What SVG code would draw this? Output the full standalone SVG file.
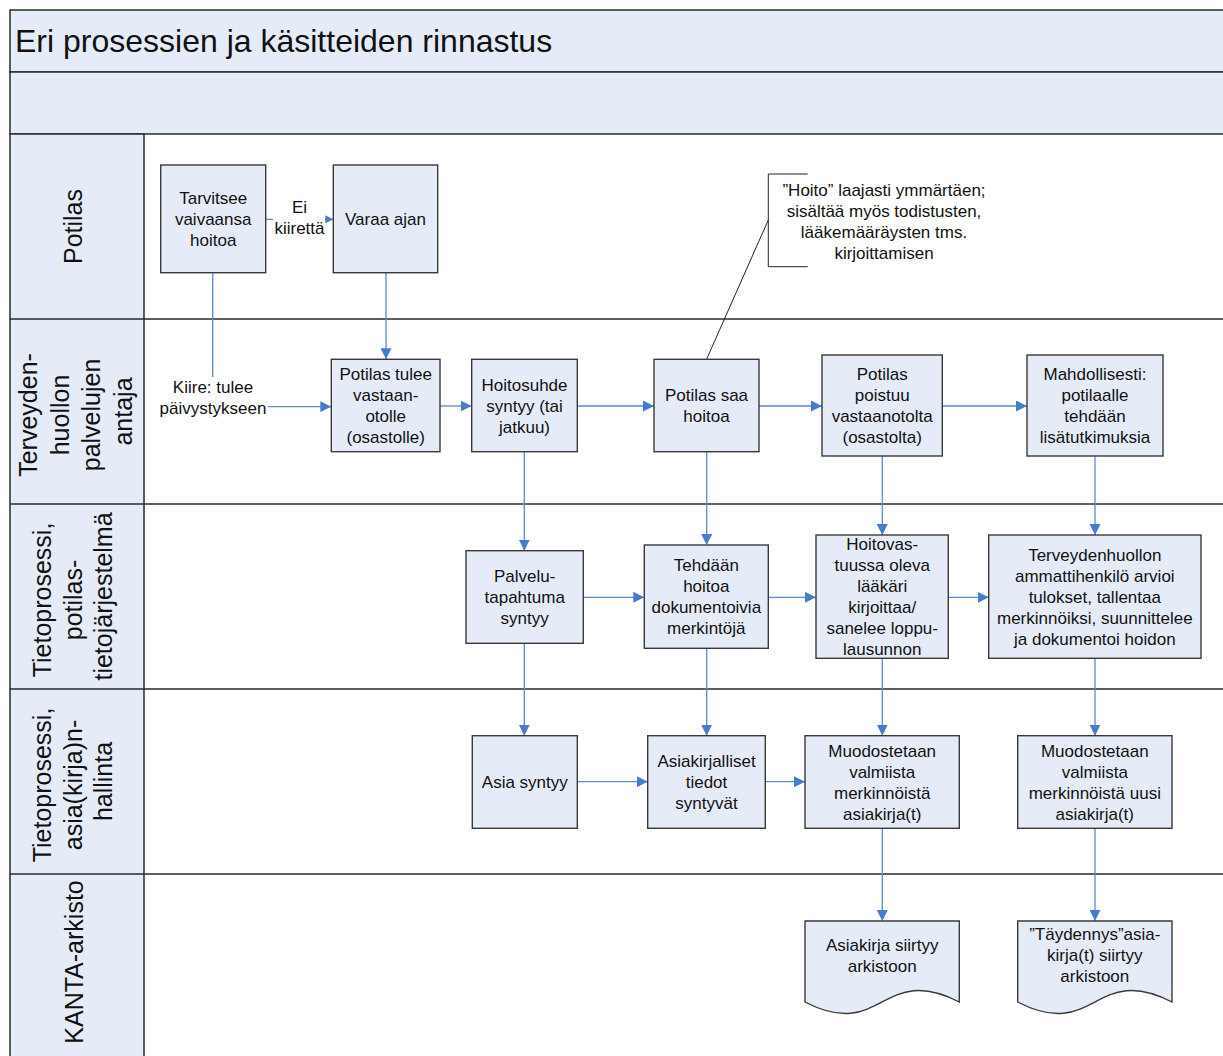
<svg xmlns="http://www.w3.org/2000/svg" width="1223" height="1056" viewBox="0 0 1223 1056">
  <style>
    text { font-family: "Liberation Sans", Arial, sans-serif; fill: #111; }
    .title { font-size: 32px; }
    .lane { font-size: 25px; text-anchor: middle; }
    .nt { font-size: 17px; text-anchor: middle; }
    .band { fill: #E6ECF7; stroke: #2a2a2a; stroke-width: 1.5; }
    .div { stroke: #2a2a2a; stroke-width: 1.6; fill: none; }
    .box { fill: #E6ECF7; stroke: #3a3a3a; stroke-width: 1.4; }
    .conn { fill: none; stroke: #5B89D2; stroke-width: 1.3; marker-end: url(#arrow); }
    .conn-sm { fill: none; stroke: #5B89D2; stroke-width: 1.3; marker-end: url(#arrow-sm); }
    .thin { fill: none; stroke: #222; stroke-width: 1; }
  </style>
  <defs>
    <marker id="arrow" viewBox="0 0 10 10" refX="10" refY="5" markerUnits="userSpaceOnUse" markerWidth="11" markerHeight="11" orient="auto">
      <path d="M0,0 L10,5 L0,10 z" fill="#4A7BCB"/>
    </marker>
    <marker id="arrow-sm" viewBox="0 0 10 10" refX="10" refY="5" markerUnits="userSpaceOnUse" markerWidth="8" markerHeight="8" orient="auto">
      <path d="M0,0 L10,5 L0,10 z" fill="#4A7BCB"/>
    </marker>
  </defs>

  <rect x="0" y="0" width="1223" height="1056" fill="#ffffff"/>

  <!-- Pool frame: title band, empty header band, lane label column -->
  <g id="frame">
    <rect class="band" x="10" y="10" width="1230" height="62"/>
    <rect class="band" x="10" y="72" width="1230" height="62"/>
    <rect class="band" x="10" y="134" width="134" height="940"/>
    <line class="div" x1="10" y1="319" x2="1223" y2="319"/>
    <line class="div" x1="10" y1="504" x2="1223" y2="504"/>
    <line class="div" x1="10" y1="689" x2="1223" y2="689"/>
    <line class="div" x1="10" y1="874" x2="1223" y2="874"/>
    <text class="title" x="15" y="52">Eri prosessien ja käsitteiden rinnastus</text>
  </g>

  <!-- Lane labels -->
  <g id="lane-potilas">
    <text class="lane" transform="translate(82,226.5) rotate(-90)" x="0" y="0">Potilas</text>
  </g>
  <g id="lane-antaja">
    <text class="lane" transform="translate(37,411.5) rotate(-90)">
      <tspan x="0" y="0">Terveyden-</tspan>
      <tspan x="0" y="31.5">huollon</tspan>
      <tspan x="0" y="63">palvelujen</tspan>
      <tspan x="0" y="94.5">antaja</tspan>
    </text>
  </g>
  <g id="lane-potilastieto">
    <text class="lane" transform="translate(51,596.5) rotate(-90)">
      <tspan x="0" y="0">Tietoprosessi,</tspan>
      <tspan x="0" y="30.5">potilas-</tspan>
      <tspan x="0" y="61">tietojärjestelmä</tspan>
    </text>
  </g>
  <g id="lane-asianhallinta">
    <text class="lane" transform="translate(51,781.5) rotate(-90)">
      <tspan x="0" y="0">Tietoprosessi,</tspan>
      <tspan x="0" y="30.5">asia(kirja)n-</tspan>
      <tspan x="0" y="61">hallinta</tspan>
    </text>
  </g>
  <g id="lane-kanta">
    <text class="lane" transform="translate(83,962) rotate(-90)" x="0" y="0">KANTA-arkisto</text>
  </g>

  <!-- Connectors -->
  <g id="connectors">
    <path class="conn-sm" d="M265.7,219.3 H333.3"/>
    <rect x="273" y="197" width="52" height="44" fill="#ffffff"/>
    <text class="nt" x="299.5" y="213.3">Ei</text>
    <text class="nt" x="299.5" y="234.3">kiirettä</text>

    <path class="conn" d="M212.7,272.7 V406.7 H331.3"/>
    <rect x="156" y="377" width="112" height="42" fill="#ffffff"/>
    <text class="nt" x="213" y="393.3">Kiire: tulee</text>
    <text class="nt" x="213" y="414.3">päivystykseen</text>

    <path class="conn" d="M386,272.7 V359.3"/>
    <path class="conn" d="M440,406 H471.7"/>
    <path class="conn" d="M577.3,406 H654"/>
    <path class="conn" d="M759,406 H822"/>
    <path class="conn" d="M942.3,406 H1027"/>
    <path class="conn" d="M524.3,451.7 V550.7"/>
    <path class="conn" d="M706.7,451.7 V545"/>
    <path class="conn" d="M882.3,456 V535"/>
    <path class="conn" d="M1095,456 V535"/>
    <path class="conn" d="M583.3,597.3 H644.3"/>
    <path class="conn" d="M768.3,597.3 H816"/>
    <path class="conn" d="M948.3,597.3 H988.7"/>
    <path class="conn" d="M524.3,643.3 V735.7"/>
    <path class="conn" d="M706.7,648.3 V735.7"/>
    <path class="conn" d="M882.3,658.3 V735.7"/>
    <path class="conn" d="M1095,658.3 V735.7"/>
    <path class="conn" d="M577.3,781.7 H647.7"/>
    <path class="conn" d="M765.3,781.7 H805"/>
    <path class="conn" d="M882.3,828.3 V921"/>
    <path class="conn" d="M1095,828.3 V921"/>
  </g>

  <!-- Annotation with bracket and leader -->
  <g id="note-hoito">
    <path class="thin" d="M807.7,174 H768.3 V266.7 H807.7"/>
    <path class="thin" d="M768.3,220 L706.7,359"/>
    <text class="nt" x="884" y="195.5">”Hoito” laajasti ymmärtäen;</text>
    <text class="nt" x="884" y="216.5">sisältää myös todistusten,</text>
    <text class="nt" x="884" y="237.5">lääkemääräysten tms.</text>
    <text class="nt" x="884" y="258.5">kirjoittamisen</text>
  </g>

  <!-- Lane: Potilas -->
  <g id="n-tarvitsee">
    <rect class="box" x="160.7" y="165" width="105" height="107.7"/>
    <text class="nt" x="213.2" y="203.5">Tarvitsee</text>
    <text class="nt" x="213.2" y="224.5">vaivaansa</text>
    <text class="nt" x="213.2" y="245.5">hoitoa</text>
  </g>
  <g id="n-varaa">
    <rect class="box" x="333.3" y="165" width="104.4" height="107.7"/>
    <text class="nt" x="385.5" y="224.5">Varaa ajan</text>
  </g>

  <!-- Lane: Terveydenhuollon palvelujen antaja -->
  <g id="n-vastaanotolle">
    <rect class="box" x="331.3" y="359.3" width="108.7" height="92.4"/>
    <text class="nt" x="385.7" y="380">Potilas tulee</text>
    <text class="nt" x="385.7" y="401">vastaan-</text>
    <text class="nt" x="385.7" y="422">otolle</text>
    <text class="nt" x="385.7" y="443">(osastolle)</text>
  </g>
  <g id="n-hoitosuhde">
    <rect class="box" x="471.7" y="359.3" width="105.6" height="92.4"/>
    <text class="nt" x="524.5" y="390.5">Hoitosuhde</text>
    <text class="nt" x="524.5" y="411.5">syntyy (tai</text>
    <text class="nt" x="524.5" y="432.5">jatkuu)</text>
  </g>
  <g id="n-saahoitoa">
    <rect class="box" x="654" y="359.3" width="105" height="92.4"/>
    <text class="nt" x="706.5" y="401">Potilas saa</text>
    <text class="nt" x="706.5" y="422">hoitoa</text>
  </g>
  <g id="n-poistuu">
    <rect class="box" x="822" y="355" width="120.3" height="101"/>
    <text class="nt" x="882.2" y="380">Potilas</text>
    <text class="nt" x="882.2" y="401">poistuu</text>
    <text class="nt" x="882.2" y="422">vastaanotolta</text>
    <text class="nt" x="882.2" y="443">(osastolta)</text>
  </g>
  <g id="n-lisatutkimukset">
    <rect class="box" x="1027" y="355" width="136" height="101"/>
    <text class="nt" x="1095" y="380">Mahdollisesti:</text>
    <text class="nt" x="1095" y="401">potilaalle</text>
    <text class="nt" x="1095" y="422">tehdään</text>
    <text class="nt" x="1095" y="443">lisätutkimuksia</text>
  </g>

  <!-- Lane: potilastietojärjestelmä -->
  <g id="n-palvelutapahtuma">
    <rect class="box" x="466" y="550.7" width="117.3" height="92.6"/>
    <text class="nt" x="524.7" y="582">Palvelu-</text>
    <text class="nt" x="524.7" y="603">tapahtuma</text>
    <text class="nt" x="524.7" y="624">syntyy</text>
  </g>
  <g id="n-merkinnat">
    <rect class="box" x="644.3" y="545" width="124" height="103.3"/>
    <text class="nt" x="706.3" y="571">Tehdään</text>
    <text class="nt" x="706.3" y="592">hoitoa</text>
    <text class="nt" x="706.3" y="613">dokumentoivia</text>
    <text class="nt" x="706.3" y="634">merkintöjä</text>
  </g>
  <g id="n-loppulausunto">
    <rect class="box" x="816" y="535" width="132.3" height="123.3"/>
    <text class="nt" x="882.2" y="550.2">Hoitovas-</text>
    <text class="nt" x="882.2" y="571.2">tuussa oleva</text>
    <text class="nt" x="882.2" y="592.2">lääkäri</text>
    <text class="nt" x="882.2" y="613.2">kirjoittaa/</text>
    <text class="nt" x="882.2" y="634.2">sanelee loppu-</text>
    <text class="nt" x="882.2" y="655.2">lausunnon</text>
  </g>
  <g id="n-arvioi">
    <rect class="box" x="988.7" y="535" width="212.3" height="123.3"/>
    <text class="nt" x="1094.8" y="560.7">Terveydenhuollon</text>
    <text class="nt" x="1094.8" y="581.7">ammattihenkilö arvioi</text>
    <text class="nt" x="1094.8" y="602.7">tulokset, tallentaa</text>
    <text class="nt" x="1094.8" y="623.7">merkinnöiksi, suunnittelee</text>
    <text class="nt" x="1094.8" y="644.7">ja dokumentoi hoidon</text>
  </g>

  <!-- Lane: asia(kirja)nhallinta -->
  <g id="n-asia">
    <rect class="box" x="472.3" y="735.7" width="105" height="92.6"/>
    <text class="nt" x="524.8" y="788">Asia syntyy</text>
  </g>
  <g id="n-asiakirjalliset">
    <rect class="box" x="647.7" y="735.7" width="117.6" height="92.6"/>
    <text class="nt" x="706.5" y="767">Asiakirjalliset</text>
    <text class="nt" x="706.5" y="788">tiedot</text>
    <text class="nt" x="706.5" y="809">syntyvät</text>
  </g>
  <g id="n-muodostetaan">
    <rect class="box" x="805" y="735.7" width="154.3" height="92.6"/>
    <text class="nt" x="882.2" y="756.5">Muodostetaan</text>
    <text class="nt" x="882.2" y="777.5">valmiista</text>
    <text class="nt" x="882.2" y="798.5">merkinnöistä</text>
    <text class="nt" x="882.2" y="819.5">asiakirja(t)</text>
  </g>
  <g id="n-muodostetaan-uusi">
    <rect class="box" x="1017.7" y="735.7" width="154.3" height="92.6"/>
    <text class="nt" x="1094.8" y="756.5">Muodostetaan</text>
    <text class="nt" x="1094.8" y="777.5">valmiista</text>
    <text class="nt" x="1094.8" y="798.5">merkinnöistä uusi</text>
    <text class="nt" x="1094.8" y="819.5">asiakirja(t)</text>
  </g>

  <!-- Lane: KANTA-arkisto (document shapes) -->
  <g id="n-arkistoon">
    <path class="box" d="M805,921 H959.3 V1002 C882.2,962 882.2,1042 805,1002 Z"/>
    <text class="nt" x="882.2" y="951">Asiakirja siirtyy</text>
    <text class="nt" x="882.2" y="972">arkistoon</text>
  </g>
  <g id="n-taydennys">
    <path class="box" d="M1017.7,921 H1172 V1002 C1094.8,962 1094.8,1042 1017.7,1002 Z"/>
    <text class="nt" x="1094.8" y="939.5">”Täydennys”asia-</text>
    <text class="nt" x="1094.8" y="960.5">kirja(t) siirtyy</text>
    <text class="nt" x="1094.8" y="981.5">arkistoon</text>
  </g>
</svg>
